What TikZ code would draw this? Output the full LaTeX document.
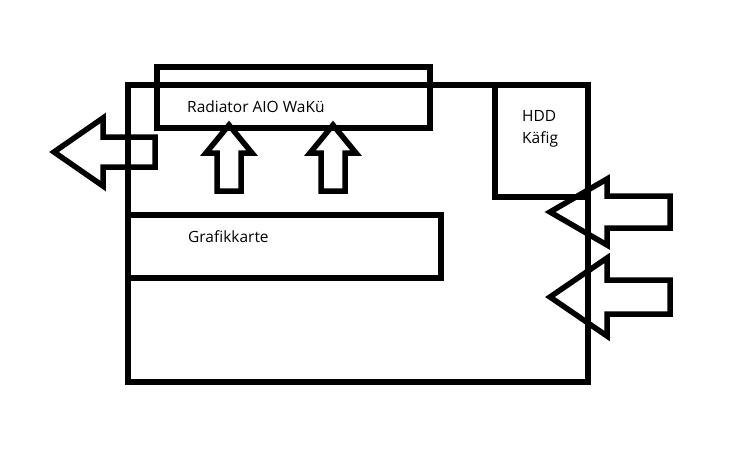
\documentclass[tikz,border=0pt]{standalone}
\usepackage{fontspec}
\setmainfont{Open Sans}
\usetikzlibrary{calc}
\tikzset{
  wall/.style={draw=black, line width=5.5pt, line join=miter},
  label/.style={anchor=west, inner sep=0pt, align=left, font=\fontsize{15.5}{22}\selectfont}
}

\begin{document}
\begin{tikzpicture}[x=1pt, y=-1pt]

  % Canvas 742 by 452, y runs downwards like the sketch.
  \useasboundingbox[fill=white] (0,0) rectangle (742,452);

  % Case, radiator on top, HDD cage, graphics card.
  \draw[wall] (128,85) rectangle (588,382);
  \draw[wall] (157,67) rectangle (430,128);
  \draw[wall] (495,85) rectangle (588,197);
  \draw[wall] (128,215) rectangle (441,278);

  \node[label] (rad) at (187,107) {Radiator AIO WaKü};
  \node[label] (hdd) at (522,129) {HDD\\Käfig};
  \node[label] (gpu) at (188,237) {Grafikkarte};

  % Exhaust to the left.
  \draw[wall] (155,137) -- (103,137) -- (103,118) -- (54,152)
    -- (103,186) -- (103,167) -- (155,167) -- cycle;

  % Air pulled up through the radiator.
  \foreach \x in {229,333} {
    \draw[wall] (\x-12,191) -- (\x-12,153) -- (\x-23,153) -- (\x,125)
      -- (\x+23,153) -- (\x+12,153) -- (\x+12,191) -- cycle;
  }

  % Intake on the right: centre / head half / shaft half.
  \foreach \y/\h/\s in {212/33/16, 297/39/17} {
    \draw[wall] (670,\y-\s) -- (607,\y-\s) -- (607,\y-\h) -- (550,\y)
      -- (607,\y+\h) -- (607,\y+\s) -- (670,\y+\s) -- cycle;
  }

\end{tikzpicture}
\end{document}
